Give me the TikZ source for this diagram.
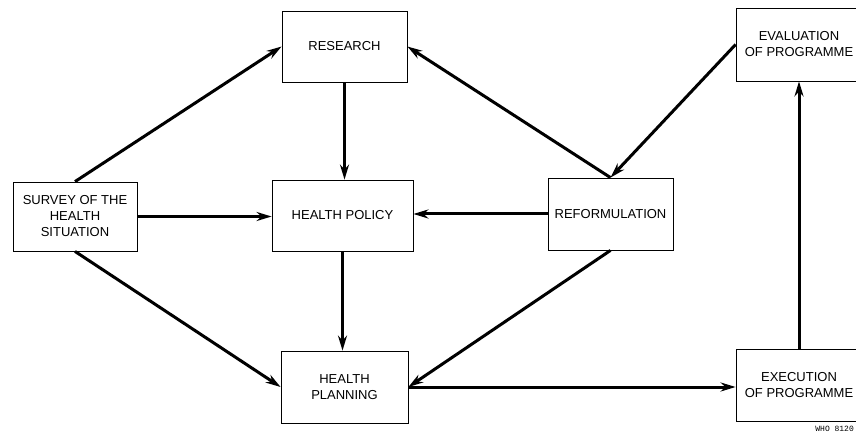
\documentclass[tikz,border=0pt]{standalone}
\usepackage{fontspec}
\setsansfont{Liberation Sans}
\setmonofont{Liberation Mono}
\usetikzlibrary{arrows.meta}

\begin{document}
\begin{tikzpicture}[x=1pt, y=-1pt, font=\sffamily\fontsize{13}{16}\selectfont,
  box/.style={draw, line width=0.8pt, align=center, inner sep=0pt},
  flow/.style={line width=3pt, -{Stealth[length=15pt,width=9pt]}}]
\useasboundingbox (0,0) rectangle (856,435);
% the seven stages
\node (survey) [box, minimum width=124, minimum height=69] at (75,216.5) {SURVEY OF THE\\HEALTH\\SITUATION};
\node (research) [box, minimum width=125, minimum height=71] at (344.5,46.5) {RESEARCH};
\node (policy) [box, minimum width=141, minimum height=71] at (342.5,215.5) {HEALTH POLICY};
\node (reform) [box, minimum width=125, minimum height=72] at (610.5,214) {REFORMULATION};
\node (planning) [box, minimum width=127, minimum height=72] at (344.5,387) {HEALTH\\PLANNING};
\node (execution) [box, minimum width=126, minimum height=72] at (799,385) {EXECUTION\\OF PROGRAMME};
\node (evaluation) [box, minimum width=126, minimum height=73] at (799,44.5) {EVALUATION\\OF PROGRAMME};
\node (code) [anchor=east, inner sep=1pt, font=\ttfamily\fontsize{8}{9}\selectfont] at (855,429) {WHO 8120};
% arrows between stages
\draw[flow] (survey.north) -- (research.west);
\draw[flow] (survey.east) -- (survey.east -| policy.west);
\draw[flow] (survey.south) -- (planning.west);
\draw[flow] (research.south) -- (research.south |- policy.north);
\draw[flow] (policy.south) -- (policy.south |- planning.north);
\draw[flow] (reform.north) -- (research.east);
\draw[flow] (evaluation.west) -- (reform.north);
\draw[flow] (reform.west) -- (reform.west -| policy.east);
\draw[flow] (reform.south) -- (planning.east);
\draw[flow] (planning.east) -- (planning.east -| execution.west);
\draw[flow] (execution.north) -- (evaluation.south);
\end{tikzpicture}
\end{document}
